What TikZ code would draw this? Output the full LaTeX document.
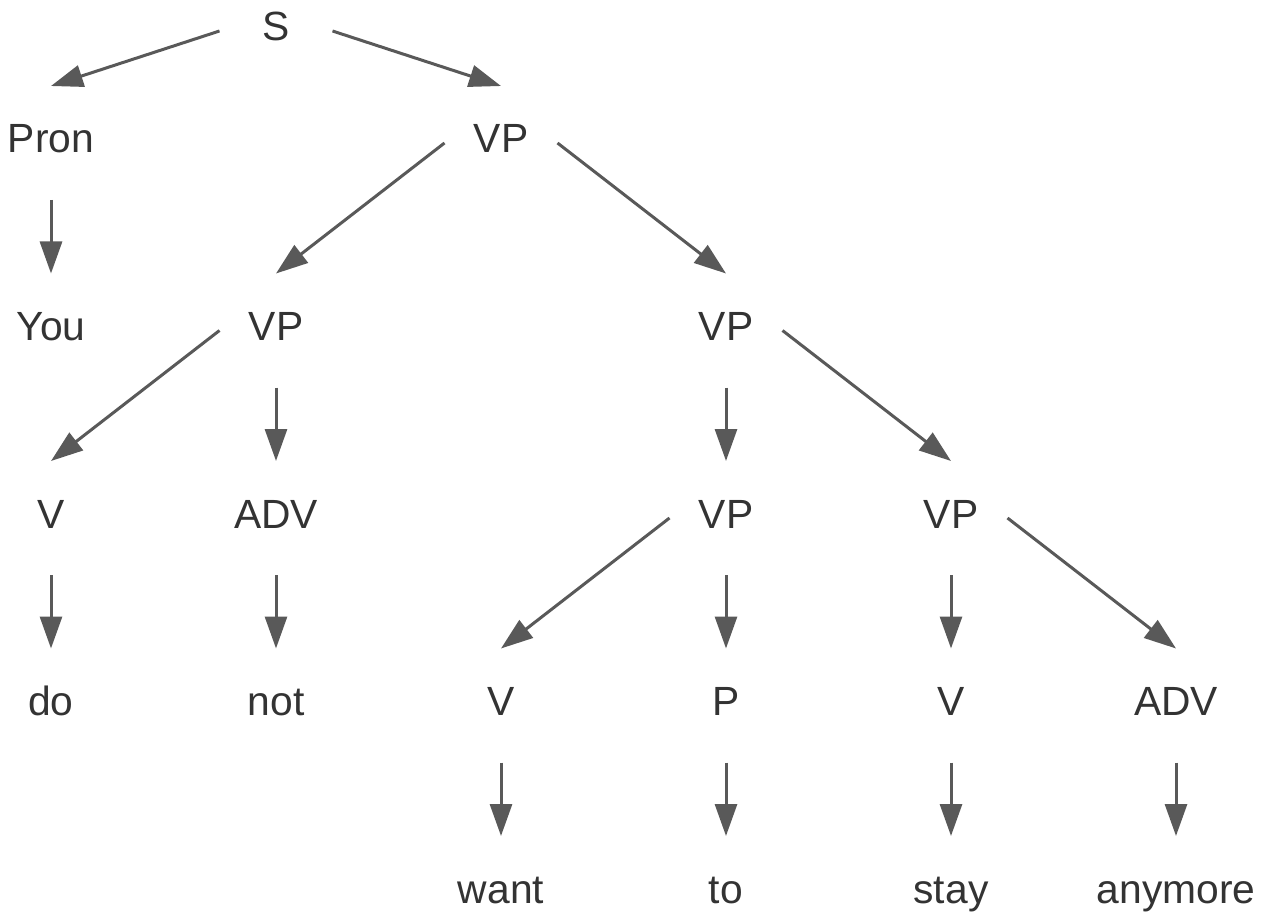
\documentclass[tikz,border=0pt]{standalone}
\usepackage{fontspec}
\setmainfont{Liberation Sans}
\usetikzlibrary{arrows.meta}
\definecolor{txt}{HTML}{333333}
\definecolor{edge}{HTML}{595959}
\tikzset{
  lbl/.style={inner sep=0pt, outer sep=0pt, minimum width=113pt, minimum height=114pt,
    text height=29pt, text depth=9pt, text=txt, font=\fontsize{40.8}{48}\selectfont},
  conn/.style={draw=edge, line width=3pt, -{Triangle[length=32pt,width=22pt]}}
}
\begin{document}
\begin{tikzpicture}[x=1pt,y=-1pt]
\useasboundingbox (0,0) rectangle (1264,920);
% rows
\node[lbl] (S) at (276,31) {S};
\node[lbl] (pron) at (51,143) {Pron};
\node[lbl] (vp1) at (501,143) {VP};
\node[lbl] (you) at (51,330.5) {You};
\node[lbl] (vp2) at (276,330.5) {VP};
\node[lbl] (vp3) at (726,330.5) {VP};
\node[lbl] (v1) at (51,518) {V};
\node[lbl] (adv1) at (276,518) {ADV};
\node[lbl] (vp4) at (726,518) {VP};
\node[lbl] (vp5) at (951,518) {VP};
\node[lbl] (do) at (51,705.5) {do};
\node[lbl] (not) at (276,705.5) {not};
\node[lbl] (v2) at (501,705.5) {V};
\node[lbl] (p) at (726,705.5) {P};
\node[lbl] (v3) at (951,705.5) {V};
\node[lbl] (adv2) at (1176,705.5) {ADV};
\node[lbl] (want) at (501,893) {want};
\node[lbl] (to) at (726,893) {to};
\node[lbl] (stay) at (951,893) {stay};
\node[lbl] (anymore) at (1176,893) {anymore};
% connectors
\draw[conn] (S.west) -- (pron.north);
\draw[conn] (S.east) -- (vp1.north);
\draw[conn] (pron.south) -- (you.north);
\draw[conn] (vp1.west) -- (vp2.north);
\draw[conn] (vp1.east) -- (vp3.north);
\draw[conn] (vp2.west) -- (v1.north);
\draw[conn] (vp2.south) -- (adv1.north);
\draw[conn] (vp3.south) -- (vp4.north);
\draw[conn] (vp3.east) -- (vp5.north);
\draw[conn] (v1.south) -- (do.north);
\draw[conn] (adv1.south) -- (not.north);
\draw[conn] (vp4.west) -- (v2.north);
\draw[conn] (vp4.south) -- (p.north);
\draw[conn] (vp5.south) -- (v3.north);
\draw[conn] (vp5.east) -- (adv2.north);
\draw[conn] (v2.south) -- (want.north);
\draw[conn] (p.south) -- (to.north);
\draw[conn] (v3.south) -- (stay.north);
\draw[conn] (adv2.south) -- (anymore.north);
\end{tikzpicture}
\end{document}
